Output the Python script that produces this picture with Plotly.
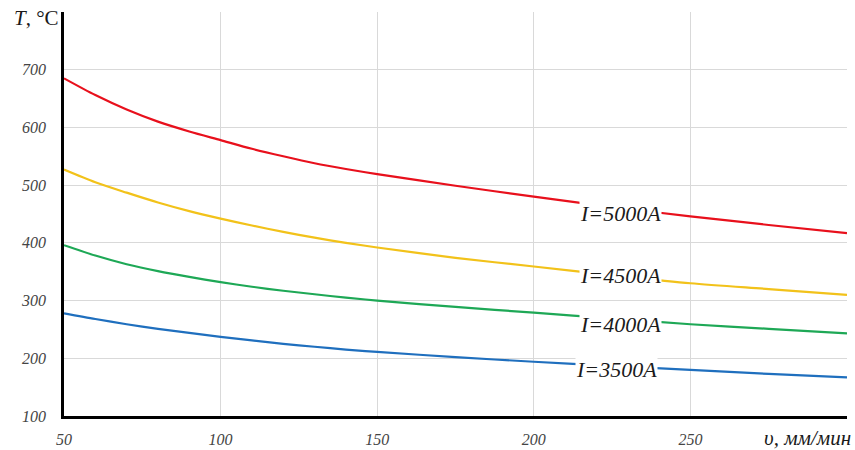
import plotly.graph_objects as go

# Welding speed, mm/min
speed = [50, 60, 70, 80, 90, 100, 110, 120, 130, 140, 150, 175, 200, 225, 250, 275, 300]

# Temperature, °C, for each welding current
t_5000 = [685, 656, 631, 610, 593, 578, 563, 550, 538, 528, 519, 499, 480, 462, 446, 431, 417]
t_4500 = [527, 505, 487, 470, 455, 442, 430, 419, 409, 400, 392, 374, 359, 344, 330, 320, 310]
t_4000 = [396, 378, 363, 351, 341, 332, 324, 317, 311, 305, 300, 289, 279, 269, 259, 251, 243]
t_3500 = [278, 268, 259, 251, 244, 237, 231, 225, 220, 215, 211, 202, 194, 187, 180, 173, 167]

series_names = ["I=5000A", "I=4500A", "I=4000A", "I=3500A"]
series_values = [t_5000, t_4500, t_4000, t_3500]
series_colors = ["#e8101c", "#f2c21a", "#1ea856", "#1f6fbe"]

x_ticks = [50, 100, 150, 200, 250, 300]
x_tick_text = ["50", "100", "150", "200", "250", ""]
y_ticks = [100, 200, 300, 400, 500, 600, 700, 800]
y_tick_text = ["100", "200", "300", "400", "500", "600", "700", ""]

# inline label anchors (speed, temperature)
label_pos = [(227.7, 451), (227.7, 344), (227.7, 259), (226.5, 181)]

SERIF = "Times New Roman, Liberation Serif, DejaVu Serif, serif"

fig = go.Figure()
for name, vals, col in zip(series_names, series_values, series_colors):
    fig.add_trace(go.Scatter(x=speed, y=vals, mode="lines", name=name,
                             line=dict(color=col, width=2.2, shape="spline", smoothing=0.8),
                             showlegend=False))

for name, (lx, ly) in zip(series_names, label_pos):
    fig.add_annotation(x=lx, y=ly, text=name, showarrow=False,
                       font=dict(family=SERIF, size=22, color="#1a1a1a", style="italic"),
                       bgcolor="white", borderpad=0)

tick_font = dict(family=SERIF, size=16, color="#444444", style="italic")

fig.update_xaxes(range=[50, 300], tickvals=x_ticks, ticktext=x_tick_text,
                 showgrid=True, gridcolor="#d9d9d9", gridwidth=1,
                 showline=True, linecolor="black", linewidth=2.5,
                 ticks="outside", ticklen=0, ticklabelstandoff=7,
                 tickfont=tick_font, zeroline=False, automargin=False)
fig.update_yaxes(range=[100, 800], tickvals=y_ticks, ticktext=y_tick_text,
                 showgrid=True, gridcolor="#d9d9d9", gridwidth=1,
                 showline=True, linecolor="black", linewidth=2.5,
                 ticks="outside", ticklen=0, ticklabelstandoff=12,
                 tickfont=tick_font, zeroline=False, automargin=False)

# axis titles
fig.add_annotation(xref="paper", yref="paper", x=-0.067, y=0.986,
                   xanchor="left", yanchor="middle", showarrow=False,
                   text="<i>T</i>, °C",
                   font=dict(family=SERIF, size=21, color="#1a1a1a"))
fig.add_annotation(xref="paper", yref="paper", x=1.008, y=-0.054,
                   xanchor="right", yanchor="middle", showarrow=False,
                   text="υ, мм/мин",
                   font=dict(family=SERIF, size=21, color="#1a1a1a", style="italic"))

fig.update_layout(width=855, height=450,
                  margin=dict(l=64, r=8, t=12, b=34, autoexpand=False),
                  plot_bgcolor="white", paper_bgcolor="white")

fig.write_html("out.html")
